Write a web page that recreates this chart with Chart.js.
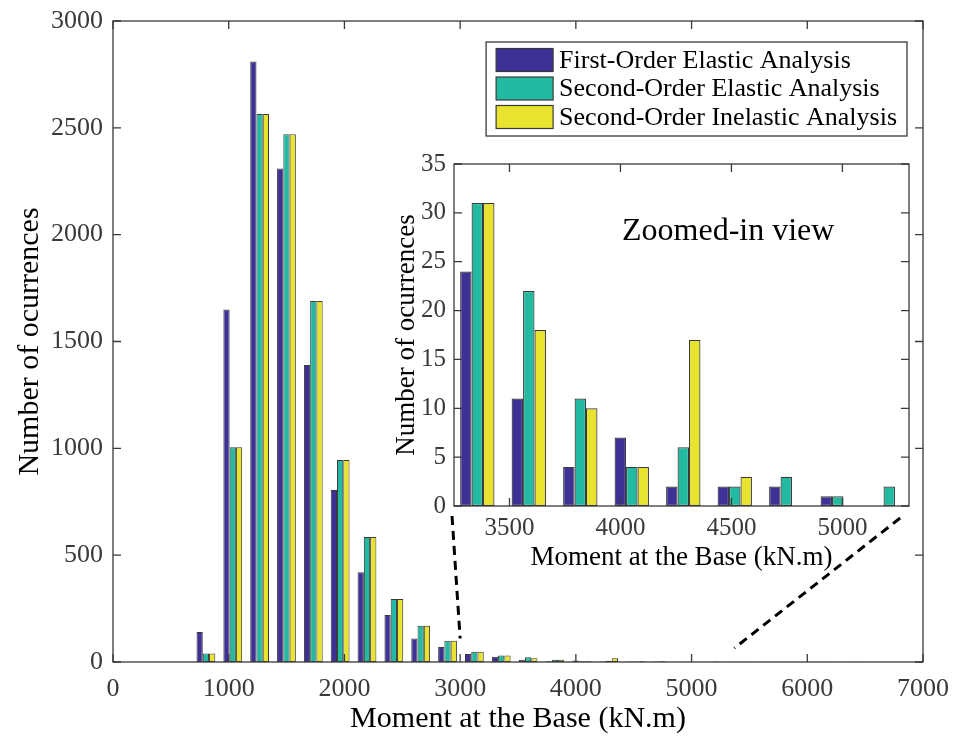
<!DOCTYPE html>
<html>
<head>
<meta charset="utf-8">
<script src="https://cdn.jsdelivr.net/npm/chart.js@4.4.1/dist/chart.umd.min.js"></script>
<style>
  body { margin: 0; background: #fff; }
  #wrap { position: relative; width: 955px; height: 736px; }
  #mainChart { position: absolute; left: 0; top: 0; }
  #insetChart { position: absolute; left: 385px; top: 150px; }
</style>
</head>
<body>
<div id="wrap">
  <canvas id="mainChart" width="955" height="736"></canvas>
  <canvas id="insetChart" width="545" height="430"></canvas>
</div>
<script>
// histogram bin centres (kN.m) and counts per analysis type
const binCenters = [803, 1035, 1267, 1499, 1731, 1963, 2195, 2427, 2659, 2891, 3123, 3355, 3587, 3819, 4051, 4283, 4515, 4747, 4979, 5211, 5443, 5675, 5907, 6139, 6371];
const firstOrderElastic    = [140, 1650, 2810, 2310, 1390, 805, 420, 220, 110, 70, 38, 24, 11, 4, 7, 2, 2, 2, 1, 0, 1, 0, 1, 1, 0];
const secondOrderElastic   = [40, 1005, 2565, 2470, 1690, 945, 585, 295, 170, 100, 48, 31, 22, 11, 4, 6, 2, 3, 1, 2, 1, 1, 0, 1, 1];
const secondOrderInelastic = [40, 1005, 2565, 2470, 1690, 945, 585, 295, 170, 100, 48, 31, 18, 10, 4, 17, 3, 0, 0, 0, 0, 1, 1, 0, 1];
const seriesLabels = ['First-Order Elastic Analysis', 'Second-Order Elastic Analysis', 'Second-Order Inelastic Analysis'];
const seriesColors = ['#3d3196', '#22bba1', '#e7e32f'];
const insetXTicks = [3500, 4000, 4500, 5000];

const serif = "'Liberation Serif', 'Times New Roman', serif";
const tickColor = '#3a3a3a';
const axisColor = '#3a3a3a';

function makeDatasets(clip, groupWidth, edge) {
    return [firstOrderElastic, secondOrderElastic, secondOrderInelastic].map((vals, i) => ({
        label: seriesLabels[i],
        data: binCenters.map((x, j) => ({ x: x, y: vals[j] })),
        backgroundColor: seriesColors[i],
        borderColor: '#3a3a3a',
        borderWidth: edge,
        borderSkipped: false,
        categoryPercentage: groupWidth,
        barPercentage: 1.0,
        clip: clip
    }));
}

// keep the plot box where it is, no extra room for overhanging labels
function noPadX(s, h) { s.height = h; s.paddingLeft = 0; s.paddingRight = 0; }
function noPadY(s, w) { s.width = w; s.paddingTop = 0; s.paddingBottom = 0; }

// white plot background + MATLAB style box with inward ticks
const boxTicks = {
    id: 'boxTicks',
    beforeDraw(chart, args, opts) {
        const { ctx, chartArea: a } = chart;
        ctx.save();
        ctx.fillStyle = '#fff';
        if (opts.fullBg) ctx.fillRect(0, 0, chart.width, chart.height);
        else ctx.fillRect(a.left, a.top, a.right - a.left, a.bottom - a.top);
        ctx.restore();
    },
    afterDraw(chart) {
        const { ctx, chartArea: a, scales: { x, y } } = chart;
        const len = 8;
        ctx.save();
        ctx.strokeStyle = axisColor;
        ctx.lineWidth = 1.3;
        ctx.strokeRect(a.left, a.top, a.right - a.left, a.bottom - a.top);
        ctx.beginPath();
        x.ticks.forEach(t => {
            const px = x.getPixelForValue(t.value);
            ctx.moveTo(px, a.bottom); ctx.lineTo(px, a.bottom - len);
            ctx.moveTo(px, a.top); ctx.lineTo(px, a.top + len);
        });
        y.ticks.forEach(t => {
            const py = y.getPixelForValue(t.value);
            ctx.moveTo(a.left, py); ctx.lineTo(a.left + len, py);
            ctx.moveTo(a.right, py); ctx.lineTo(a.right - len, py);
        });
        ctx.stroke();
        ctx.restore();
    }
};

// text label inside the inset
const insetNote = {
    id: 'insetNote',
    afterDraw(chart) {
        const { ctx, chartArea: a } = chart;
        ctx.save();
        ctx.font = '32px ' + serif;
        ctx.fillStyle = '#000';
        ctx.textBaseline = 'middle';
        ctx.fillText('Zoomed-in view', a.left + 168, a.top + 68);
        ctx.restore();
    }
};

const insetChart = new Chart(document.getElementById('insetChart'), {
    type: 'bar',
    data: { datasets: makeDatasets(0, 0.667, 1.2) },
    options: {
        responsive: false, animation: false,
        layout: { padding: { top: 14, right: 21, left: 0, bottom: 0 } },
        scales: {
            x: {
                type: 'linear', min: 3250, max: 5300, offset: false,
                afterBuildTicks: s => { s.ticks = insetXTicks.map(v => ({ value: v })); },
                afterFit: s => noPadX(s, 74),
                grid: { display: false, drawTicks: false }, border: { display: false },
                ticks: { font: { family: serif, size: 25 }, color: tickColor, padding: 7, maxRotation: 0, autoSkip: false, callback: v => String(v) },
                title: { display: true, text: 'Moment at the Base (kN.m)', color: '#000', font: { family: serif, size: 27, lineHeight: 1 }, padding: { top: 0, bottom: 9 } }
            },
            y: {
                min: 0, max: 35,
                afterFit: s => noPadY(s, 69),
                grid: { display: false, drawTicks: false }, border: { display: false },
                ticks: { stepSize: 5, font: { family: serif, size: 25 }, color: tickColor, padding: 8, callback: v => String(v) },
                title: { display: true, text: 'Number of ocurrences', color: '#000', font: { family: serif, size: 27, lineHeight: 1 }, padding: { top: 8, bottom: 0 } }
            }
        },
        plugins: { legend: { display: false }, tooltip: { enabled: false }, boxTicks: { fullBg: false } }
    },
    plugins: [boxTicks, insetNote]
});

// legend box and dashed zoom guides on the main chart
const mainExtras = {
    id: 'mainExtras',
    afterDraw(chart) {
        const { ctx, chartArea: a, scales: { x, y } } = chart;
        ctx.save();
        // legend
        ctx.font = '26px ' + serif;
        const textW = Math.max(...chart.data.datasets.map(d => ctx.measureText(d.label).width));
        const w = 73 + textW + 10, h = 94;
        const lx = a.right - 16 - w, ly = a.top + 21;
        ctx.fillStyle = '#fff';
        ctx.fillRect(lx, ly, w, h);
        ctx.strokeStyle = axisColor;
        ctx.lineWidth = 1.3;
        ctx.strokeRect(lx, ly, w, h);
        ctx.textBaseline = 'middle';
        chart.data.datasets.forEach((d, i) => {
            const cy = ly + 18 + i * 28.5;
            ctx.fillStyle = d.backgroundColor;
            ctx.fillRect(lx + 10, cy - 11.5, 57, 23);
            ctx.strokeStyle = '#3a3a3a';
            ctx.lineWidth = 1.2;
            ctx.strokeRect(lx + 10, cy - 11.5, 57, 23);
            ctx.fillStyle = '#000';
            ctx.fillText(d.label, lx + 73, cy + 1);
        });
        // zoom guide lines
        const ia = insetChart.chartArea, ix = insetChart.scales.x;
        ctx.strokeStyle = '#000';
        ctx.lineWidth = 3;
        ctx.setLineDash([9, 6]);
        ctx.beginPath();
        ctx.moveTo(385 + ia.left - 2, 150 + ia.bottom + 10);
        ctx.lineTo(x.getPixelForValue(3000), y.getPixelForValue(110));
        ctx.moveTo(385 + ix.getPixelForValue(5260), 150 + ia.bottom + 12);
        ctx.lineTo(x.getPixelForValue(5370), y.getPixelForValue(65));
        ctx.stroke();
        ctx.restore();
    }
};

const mainChart = new Chart(document.getElementById('mainChart'), {
    type: 'bar',
    data: { datasets: makeDatasets(false, 0.7, 1) },
    options: {
        responsive: false, animation: false,
        layout: { padding: { top: 21, right: 32, left: 0, bottom: 0 } },
        scales: {
            x: {
                type: 'linear', min: 0, max: 7000, offset: false,
                afterFit: s => noPadX(s, 74),
                grid: { display: false, drawTicks: false }, border: { display: false },
                ticks: { stepSize: 1000, font: { family: serif, size: 26 }, color: tickColor, padding: 12, maxRotation: 0, autoSkip: false, callback: v => String(v) },
                title: { display: true, text: 'Moment at the Base (kN.m)', color: '#000', font: { family: serif, size: 30, lineHeight: 1 }, padding: { top: 0, bottom: 2 } }
            },
            y: {
                min: 0, max: 3000,
                afterFit: s => noPadY(s, 113),
                grid: { display: false, drawTicks: false }, border: { display: false },
                ticks: { stepSize: 500, font: { family: serif, size: 26 }, color: tickColor, padding: 10, callback: v => String(v) },
                title: { display: true, text: 'Number of ocurrences', color: '#000', font: { family: serif, size: 30, lineHeight: 1 }, padding: { top: 15, bottom: 0 } }
            }
        },
        plugins: { legend: { display: false }, tooltip: { enabled: false }, boxTicks: { fullBg: true } }
    },
    plugins: [boxTicks, mainExtras]
});
</script>
</body>
</html>
